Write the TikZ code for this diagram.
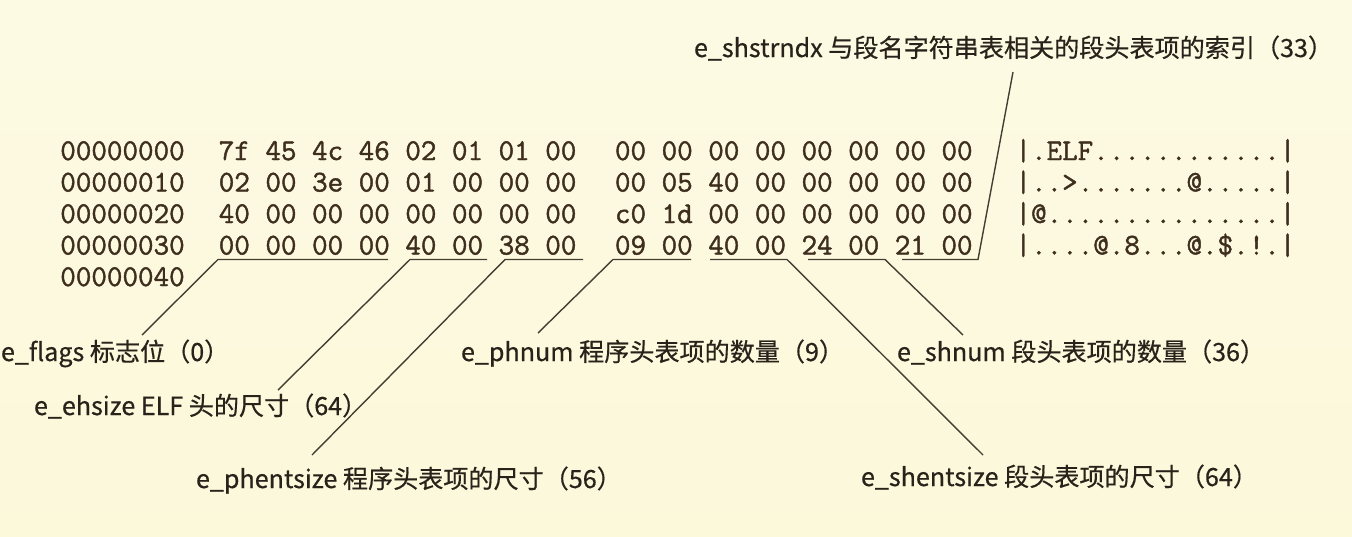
\documentclass[tikz,border=0pt]{standalone}
\usepackage{fontspec}
\newfontfamily\cjkfont{Noto Sans CJK SC}[FakeBold=0.5]
\newfontfamily\hexfont{Latin Modern Mono}[FakeBold=1.4]
\definecolor{bgtop}{RGB}{253,250,228}
\definecolor{bgbot}{RGB}{252,248,218}
\definecolor{hexcol}{RGB}{62,46,30}
\definecolor{labcol}{RGB}{40,34,26}
\definecolor{linecol}{RGB}{68,62,50}
\begin{document}
\begin{tikzpicture}[x=1pt,y=-1pt,
  hexrow/.style={anchor=base west,inner sep=0pt,outer sep=0pt,text=hexcol,
    font=\hexfont\fontsize{30.19}{36}\selectfont\frenchspacing},
  lab/.style={anchor=base west,inner sep=0pt,outer sep=0pt,text=labcol,
    font=\cjkfont\fontsize{25.1}{30}\selectfont},
  lead/.style={draw=linecol,line width=1.4pt,line join=miter}]
\useasboundingbox (0,0) rectangle (1352,536);
\shade[top color=bgtop,bottom color=bgbot] (0,0) rectangle (1352,536);

% hex dump: offset, two byte groups, ascii column
\foreach \r/\off/\ga/\gb/\asc [count=\i from 0] in {
  0/00000000/{7f 45 4c 46 02 01 01 00}/{00 00 00 00 00 00 00 00}/{|.ELF............|},
  1/00000010/{02 00 3e 00 01 00 00 00}/{00 05 40 00 00 00 00 00}/{|..>.......@.....|},
  2/00000020/{40 00 00 00 00 00 00 00}/{c0 1d 00 00 00 00 00 00}/{|@...............|},
  3/00000030/{00 00 00 00 40 00 38 00}/{09 00 40 00 24 00 21 00}/{|....@.8...@.\$.!.|}}{
  \node[hexrow] (off\i) at (60.3,160+31.5*\i) {\off};
  \node[hexrow] (ga\i) at (218.8,160+31.5*\i) {\ga};
  \node[hexrow] (gb\i) at (615.0,160+31.5*\i) {\gb};
  \node[hexrow] (asc\i) at (1015.5,160+31.5*\i) {\asc};
}
\node[hexrow] (off4) at (60.3,286) {00000040};

% labels
\node[lab] (shstrndx) at (694,57) {e\_shstrndx 与段名字符串表相关的段头表项的索引（33）};
\node[lab] (flags) at (1,361) {e\_flags 标志位（0）};
\node[lab] (ehsize) at (34,415) {e\_ehsize ELF 头的尺寸（64）};
\node[lab] (phentsize) at (196,488) {e\_phentsize 程序头表项的尺寸（56）};
\node[lab] (phnum) at (461,361) {e\_phnum 程序头表项的数量（9）};
\node[lab] (shnum) at (897,361) {e\_shnum 段头表项的数量（36）};
\node[lab] (shentsize) at (861,486) {e\_shentsize 段头表项的尺寸（64）};

% underline end points and connector ends
\coordinate (aS) at (218,259.5); \coordinate (aE) at (388,259.5); \coordinate (aT) at (142,335);
\coordinate (bS) at (410,259.5); \coordinate (bE) at (487,259.5); \coordinate (bT) at (278,390);
\coordinate (cS) at (505,259.5); \coordinate (cE) at (583,259.5); \coordinate (cT) at (312,455);
\coordinate (dS) at (613,259.5); \coordinate (dE) at (691,259.5); \coordinate (dT) at (538,333);
\coordinate (eS) at (710,259.5); \coordinate (eE) at (787,259.5); \coordinate (eT) at (983,455);
\coordinate (fS) at (808,259.5); \coordinate (fE) at (885,259.5); \coordinate (fT) at (963,335);
\coordinate (gS) at (902,259.5); \coordinate (gE) at (978,259.5); \coordinate (gT) at (1013,72);

\draw[lead] (aE) -- (aS) -- (aT);
\draw[lead] (bE) -- (bS) -- (bT);
\draw[lead] (cE) -- (cS) -- (cT);
\draw[lead] (dE) -- (dS) -- (dT);
\draw[lead] (eS) -- (eE) -- (eT);
\draw[lead] (fS) -- (fE) -- (fT);
\draw[lead] (gS) -- (gE) -- (gT);
\end{tikzpicture}
\end{document}
